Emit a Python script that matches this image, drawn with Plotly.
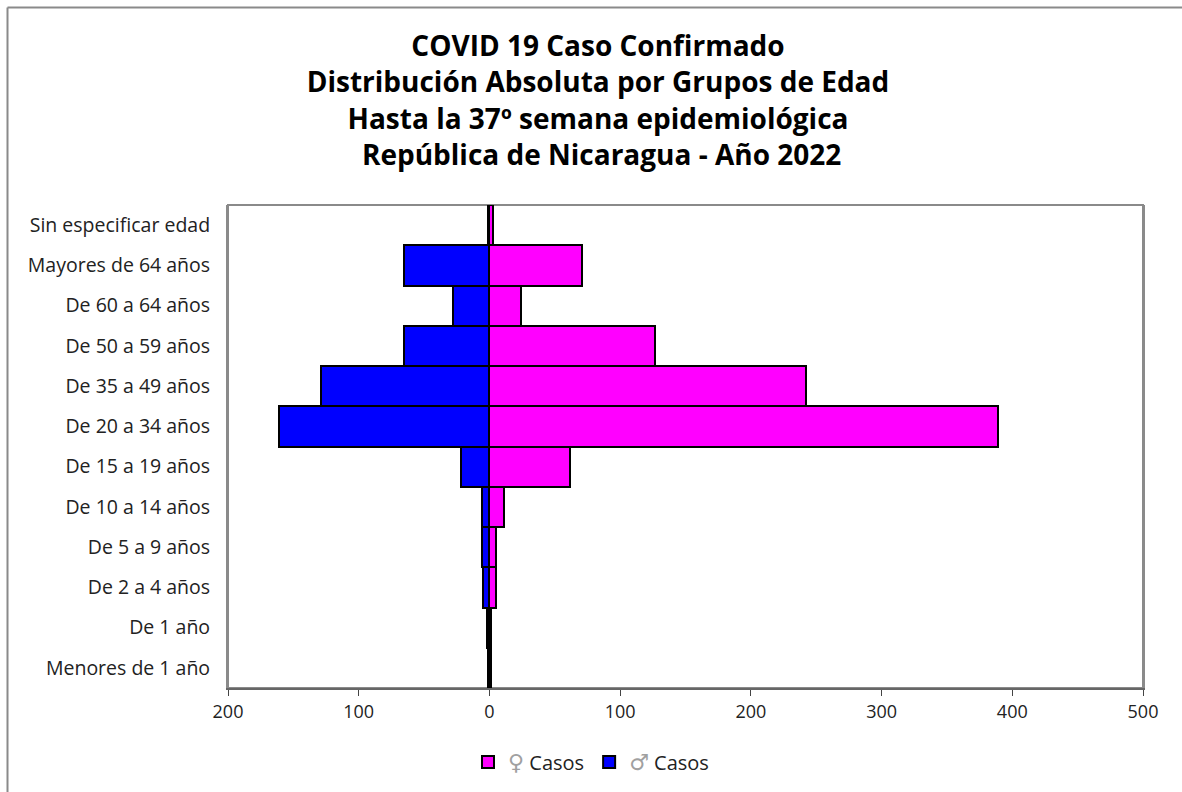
import plotly.graph_objects as go

categories = ["Menores de 1 año", "De 1 año", "De 2 a 4 años", "De 5 a 9 años",
              "De 10 a 14 años", "De 15 a 19 años", "De 20 a 34 años", "De 35 a 49 años",
              "De 50 a 59 años", "De 60 a 64 años", "Mayores de 64 años", "Sin especificar edad"]
female = [1, 1, 5, 5, 11, 62, 389, 242, 127, 24, 71, 3]
male = [1, 2, 5, 6, 6, 22, 161, 129, 65, 28, 65, 1]
tick_vals = [-200, -100, 0, 100, 200, 300, 400, 500]
tick_text = ["200", "100", "0", "100", "200", "300", "400", "500"]

title_lines = ["COVID 19 Caso Confirmado",
               "Distribución Absoluta por Grupos de Edad",
               "Hasta la 37º semana epidemiológica",
               " República de Nicaragua - Año 2022"]

FONT = "Open Sans"
W, H = 1182, 792
L, R, T, B = 228, 39, 205, 104
PW, PH = W - L - R, H - T - B


def px_x(p):
    return (p - L) / PW


def px_y(p):
    return (H - B - p) / PH


glyph = "<span style=\"color:#a0a0a0;font-family:'DejaVu Sans';font-size:22px\">{}</span> Casos"

fig = go.Figure()
fig.add_trace(go.Bar(
    y=categories, x=female, orientation="h",
    name=glyph.format("♀"),
    marker=dict(color="#FF00FF", line=dict(color="black", width=2)),
))
fig.add_trace(go.Bar(
    y=categories, x=[-v for v in male], orientation="h",
    name=glyph.format("♂"),
    marker=dict(color="#0000FF", line=dict(color="black", width=2)),
))

fig.update_layout(
    width=W, height=H,
    paper_bgcolor="white", plot_bgcolor="white",
    barmode="overlay", bargap=0,
    margin=dict(l=L, r=R, t=T, b=B, autoexpand=False),
    font=dict(family=FONT, size=19, color="#222"),
    title=dict(
        text="<br>".join(title_lines),
        x=598 / W, xref="container", xanchor="center",
        y=1 - 56 / H, yref="container", yanchor="top",
        font=dict(family=FONT, size=28, color="black", weight="bold"),
    ),
    legend=dict(
        orientation="h", x=0.5, xanchor="center", xref="container",
        y=0.038, yanchor="middle", yref="container",
        font=dict(family=FONT, size=20, color="#222"),
        traceorder="normal", itemwidth=30,
    ),
    showlegend=True,
    shapes=[
        dict(type="line", xref="paper", yref="paper", x0=px_x(7.5), x1=px_x(1200),
             y0=px_y(7.5), y1=px_y(7.5), line=dict(color="#8a8a8a", width=2)),
        dict(type="line", xref="paper", yref="paper", x0=px_x(7.5), x1=px_x(7.5),
             y0=px_y(7.5), y1=px_y(810), line=dict(color="#8a8a8a", width=2)),
        dict(type="rect", xref="paper", yref="paper", x0=0, x1=1, y0=0, y1=1,
             line=dict(color="#8a8a8a", width=2), layer="below"),
    ],
)

fig.update_xaxes(
    range=[-200, 500], tickvals=tick_vals, ticktext=tick_text,
    showgrid=False, zeroline=True, zerolinecolor="black", zerolinewidth=3,
    showline=True, linecolor="#666", linewidth=2, mirror=False,
    ticks="outside", ticklen=6, tickcolor="#444", tickwidth=1,
    ticklabelstandoff=0,
    tickfont=dict(family=FONT, size=18, color="#222"),
)
fig.update_yaxes(
    showgrid=False, showline=True, linecolor="#8a8a8a", linewidth=2, mirror=True,
    ticks="", ticklabelstandoff=12,
    tickfont=dict(family=FONT, size=19.5, color="#222"),
)

fig.write_html("out.html", config={"displayModeBar": False},
               post_script="document.body.style.margin='0px';")
